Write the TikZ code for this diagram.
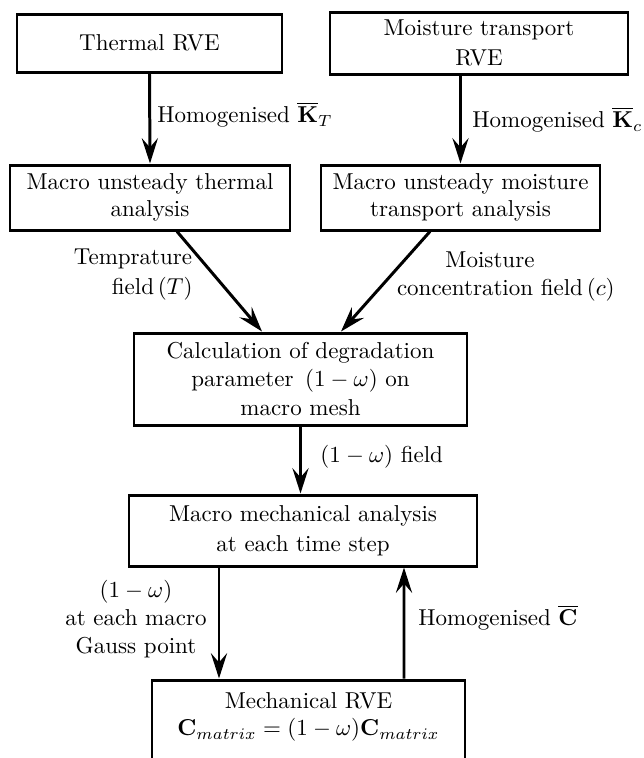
\documentclass[tikz,border=0pt]{standalone}
\usetikzlibrary{arrows.meta,calc}
\begin{document}
\begin{tikzpicture}[x=0.4348pt,y=-0.4348pt,
  box/.style={draw,line width=1.3pt,inner sep=0pt,align=center,font=\fontsize{10}{12}\selectfont},
  sz/.style 2 args={minimum width=#1*0.4348pt,minimum height=#2*0.4348pt},
  arr/.style={line width=1.3pt,-{Stealth[length=11pt,width=7pt,inset=4pt]}},
  lbl/.style={inner sep=0pt,align=center,font=\fontsize{10}{12}\selectfont}]
\useasboundingbox (0,0) rectangle (644,758);
\node[box,sz={265}{58}] (tr) at (149.5,43) {Thermal RVE};
\node[box,sz={298}{62},font=\fontsize{10}{13}\selectfont] (mr) at (479,43) {Moisture transport\\RVE};
\node[box,sz={280}{65}] (mt) at (150,197.5) {Macro unsteady thermal\\analysis};
\node[box,sz={279}{65}] (mm) at (460.5,197.5) {Macro unsteady moisture\\transport analysis};
\node[box,sz={333}{92},font=\fontsize{10}{12.4}\selectfont] (calc) at (300.5,379) {Calculation of degradation\\parameter \,$(1-\omega)$ on\\macro mesh};
\node[box,sz={348}{71},font=\fontsize{10}{13}\selectfont] (mech) at (303,530.5) {Macro mechanical analysis\\at each time step};
\node[box,sz={313}{120}] (rve) at (308.5,740) {};
\node[lbl] (rvet) at (308.5,717) {Mechanical RVE\\$\mathbf{C}_{matrix}=(1-\omega)\mathbf{C}_{matrix}$};

\draw[arr] (tr.south) -- (mt.north);
\draw[arr] (mr.south -| mm.north) -- (mm.north);
\draw[arr] ($(mt.south)+(27,0)$) -- ($(calc.north)+(-38.5,0)$);
\draw[arr] ($(mm.south)+(-30.5,0)$) -- ($(calc.north)+(40.5,0)$);
\draw[arr] (calc.south) -- (calc.south |- mech.north);
\draw[arr] ($(mech.south)+(-84,0)$) -- ($(rve.north)+(-89.5,0)$);
\draw[arr] ($(rve.north)+(95.5,0)$) -- ($(mech.south)+(101,0)$);

\node[lbl,anchor=west] (lkt) at (157,115) {Homogenised $\overline{\mathbf{K}}_T$};
\node[lbl,anchor=west] (lkc) at (472,120) {Homogenised $\overline{\mathbf{K}}_c$};
\node[lbl,font=\fontsize{10}{13}\selectfont] (ltemp) at (133,275) {Temprature\\field\rlap{\,$(T)$}};
\node[lbl] (lmoist) at (490,276.5) {Moisture\\concentration field\rlap{\,$(c)$}};
\node[lbl,anchor=west] (lfield) at (320,457) {$(1-\omega)$~field};
\node[lbl] (lgauss) at (136,619) {$(1-\omega)$\\at each macro\\Gauss point};
\node[lbl,anchor=west] (lc) at (418,618) {Homogenised $\overline{\mathbf{C}}$};
\end{tikzpicture}
\end{document}
